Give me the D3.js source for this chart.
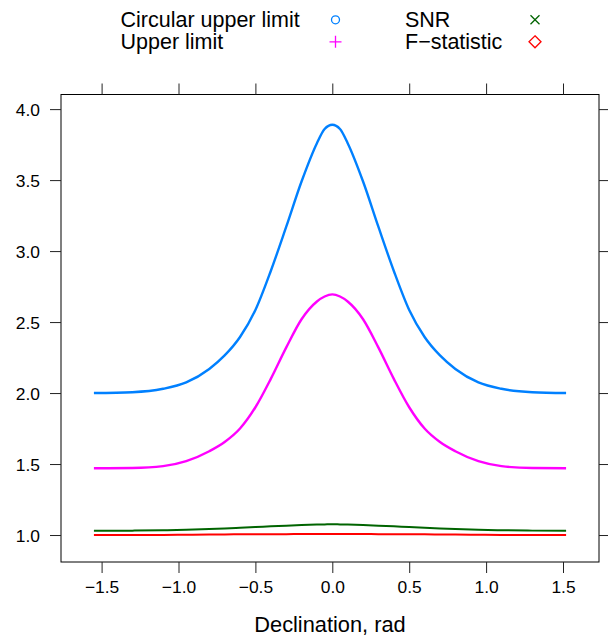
<!DOCTYPE html>
<html>
<head>
<meta charset="utf-8">
<script src="https://cdn.jsdelivr.net/npm/d3@7"></script>
<style>
  body { margin: 0; background: #fff; }
  svg { display: block; font-family: "Liberation Sans", Arial, sans-serif; }
</style>
</head>
<body>
<div id="chart"></div>
<script>
// values
const declination = [-1.55, -1.3, -1.1, -0.95, -0.8, -0.7, -0.6, -0.5, -0.4, -0.3, -0.2, -0.1, -0.05, 0,
  0.05, 0.1, 0.2, 0.3, 0.4, 0.5, 0.6, 0.7, 0.8, 0.95, 1.1, 1.3, 1.52];
const circularUpper = [2.00, 2.006, 2.03, 2.075, 2.17, 2.265, 2.395, 2.585, 2.86, 3.17, 3.49, 3.76, 3.86, 3.89,
  3.86, 3.76, 3.49, 3.17, 2.86, 2.585, 2.395, 2.265, 2.17, 2.075, 2.03, 2.006, 2.00];
const upperLimit = [1.47, 1.472, 1.485, 1.52, 1.59, 1.655, 1.75, 1.90, 2.10, 2.32, 2.52, 2.645, 2.68, 2.695,
  2.68, 2.645, 2.52, 2.32, 2.10, 1.90, 1.75, 1.655, 1.59, 1.52, 1.485, 1.472, 1.47];
const snr = [1.030, 1.031, 1.034, 1.037, 1.042, 1.046, 1.051, 1.056, 1.061, 1.066, 1.071, 1.074, 1.075, 1.076,
  1.075, 1.074, 1.071, 1.066, 1.061, 1.056, 1.051, 1.046, 1.042, 1.037, 1.034, 1.031, 1.030];
const fStat = [1.000, 1.000, 1.001, 1.002, 1.003, 1.004, 1.005, 1.005, 1.006, 1.006, 1.007, 1.007, 1.007, 1.007,
  1.007, 1.007, 1.007, 1.006, 1.006, 1.005, 1.005, 1.004, 1.003, 1.002, 1.001, 1.000, 1.000];

const xTicks = [-1.5, -1.0, -0.5, 0.0, 0.5, 1.0, 1.5];
const yTicks = [1.0, 1.5, 2.0, 2.5, 3.0, 3.5, 4.0];

const series = [
  { name: "Circular upper limit", values: circularUpper, color: "#0080ff", width: 2.4, symbol: "circle" },
  { name: "Upper limit", values: upperLimit, color: "#ff00ff", width: 2.4, symbol: "plus" },
  { name: "SNR", values: snr, color: "#006400", width: 2, symbol: "cross" },
  { name: "F\u2212statistic", values: fStat, color: "#ff0000", width: 2, symbol: "diamond" },
];

const width = 608, height = 639;
const panel = { left: 61, right: 599, top: 94.5, bottom: 562 };

const svg = d3.select("#chart").append("svg")
  .attr("width", width).attr("height", height);

const x = d3.scaleLinear().domain([-1.764, 1.734]).range([panel.left, panel.right]);
const y = d3.scaleLinear().domain([0.81, 4.103]).range([panel.bottom, panel.top]);

const fmt = (d) => d3.format(".1f")(d).replace("-", "\u2212");

// curves
const line = d3.line()
  .x((d) => x(d[0]))
  .y((d) => y(d[1]))
  .curve(d3.curveMonotoneX);

// draw lower series first so the big ones sit on top
[...series].reverse().forEach((s) => {
  svg.append("path")
    .datum(declination.map((dv, i) => [dv, s.values[i]]))
    .attr("fill", "none")
    .attr("stroke", s.color)
    .attr("stroke-width", s.width)
    .attr("d", line);
});

// panel border
svg.append("rect")
  .attr("x", panel.left).attr("y", panel.top)
  .attr("width", panel.right - panel.left)
  .attr("height", panel.bottom - panel.top)
  .attr("fill", "none").attr("stroke", "#000").attr("stroke-width", 1);

// axes on all four sides, lattice style
const tickLen = 11;
const axisBottom = svg.append("g")
  .attr("transform", `translate(0,${panel.bottom})`)
  .call(d3.axisBottom(x).tickValues(xTicks).tickFormat(fmt).tickSize(tickLen).tickPadding(8));
const axisTop = svg.append("g")
  .attr("transform", `translate(0,${panel.top})`)
  .call(d3.axisTop(x).tickValues(xTicks).tickFormat("").tickSize(tickLen));
const axisLeft = svg.append("g")
  .attr("transform", `translate(${panel.left},0)`)
  .call(d3.axisLeft(y).tickValues(yTicks).tickFormat(fmt).tickSize(tickLen).tickPadding(10));
const axisRight = svg.append("g")
  .attr("transform", `translate(${panel.right},0)`)
  .call(d3.axisRight(y).tickValues(yTicks).tickFormat("").tickSize(tickLen));

[axisBottom, axisTop, axisLeft, axisRight].forEach((g) => {
  g.select(".domain").remove();
  g.selectAll(".tick line").attr("stroke", "#222");
  g.selectAll(".tick text")
    .attr("fill", "#000")
    .style("font-size", "17.4px")
    .style("font-family", "'Liberation Sans', Arial, sans-serif");
});
axisLeft.selectAll(".tick text").attr("dy", "0.36em");

// x label
svg.append("text")
  .attr("x", (panel.left + panel.right) / 2)
  .attr("y", 632)
  .attr("text-anchor", "middle")
  .style("font-size", "21.8px")
  .text("Declination, rad");

// legend (two columns)
const keyCols = [
  { textX: 120.5, symX: 335.5 },
  { textX: 405, symX: 535 },
];
const keyRows = [27.3, 49.3];

series.forEach((s, i) => {
  const col = keyCols[Math.floor(i / 2)];
  const base = keyRows[i % 2];
  svg.append("text")
    .attr("x", col.textX).attr("y", base)
    .style("font-size", "21.5px")
    .text(s.name);

  const cy = base - 7.5;
  const g = svg.append("g").attr("transform", `translate(${col.symX},${cy})`)
    .attr("fill", "none").attr("stroke", s.color).attr("stroke-width", 1.3);
  if (s.symbol === "circle") {
    g.append("circle").attr("r", 4);
  } else if (s.symbol === "plus") {
    g.append("path").attr("d", "M-6,0H6M0,-6V6");
  } else if (s.symbol === "cross") {
    g.append("path").attr("d", "M-4.5,-4.5L4.5,4.5M-4.5,4.5L4.5,-4.5");
  } else {
    g.append("path").attr("d", "M0,-6L6,0L0,6L-6,0Z");
  }
});
</script>
</body>
</html>
